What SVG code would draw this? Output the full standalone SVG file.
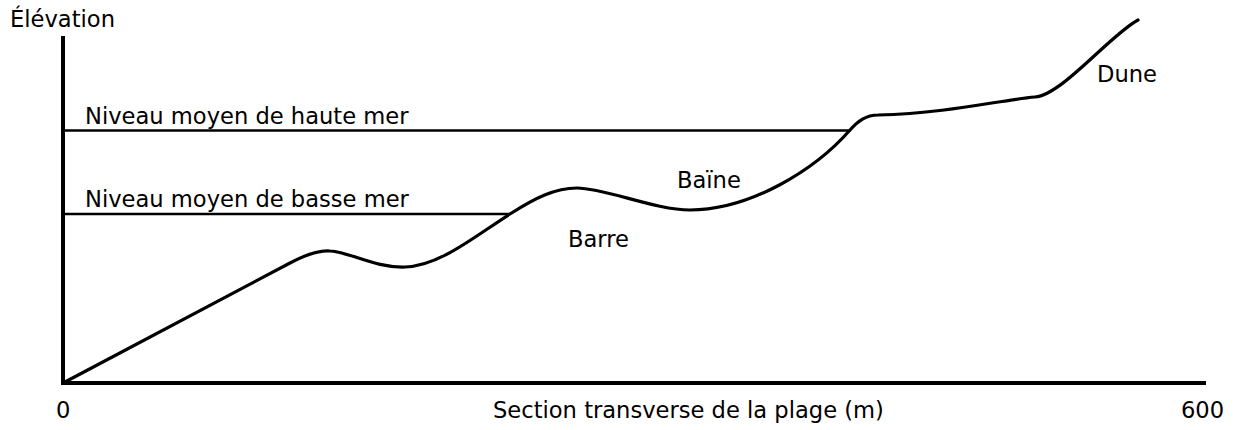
<svg xmlns="http://www.w3.org/2000/svg" width="1236" height="430" viewBox="0 0 1236 430">
<style>
text{font-family:"DejaVu Sans","Liberation Sans",sans-serif;font-size:22.6px;fill:#000}
.ax{stroke:#000;stroke-width:4;fill:none}
.lvl{stroke:#000;stroke-width:2.6;fill:none}
.prof{stroke:#000;stroke-width:3.2;fill:none;stroke-linejoin:round;stroke-linecap:round}
</style>
<rect width="1236" height="430" fill="#fff"/>
<g id="axes">
<path class="ax" d="M63,36 V383 H1206"/>
<text x="10" y="27">Élévation</text>
<text x="56" y="418">0</text>
<text x="493" y="418">Section transverse de la plage (m)</text>
<text x="1181" y="418">600</text>
</g>
<g id="levels">
<path class="lvl" d="M63,130.5 H851"/>
<path class="lvl" d="M63,214 H510"/>
<text x="85" y="124">Niveau moyen de haute mer</text>
<text x="85" y="207">Niveau moyen de basse mer</text>
</g>
<g id="profile">
<path class="prof" d="M65,382 L290,263 C305,255 318,250 330,251 C350,252 375,268 405,267 C440,266 475,236 510,214 C535,198 555,188 577,188 C605,188 655,210 690,210 C750,210 815,170 850,130 C858,121 866,115 878,115 C950,113 1000,100 1035,97 C1062,95 1110,35 1138,20"/>
</g>
<g id="labels">
<text x="568" y="247">Barre</text>
<text x="677" y="188">Baïne</text>
<text x="1097" y="82">Dune</text>
</g>
</svg>
